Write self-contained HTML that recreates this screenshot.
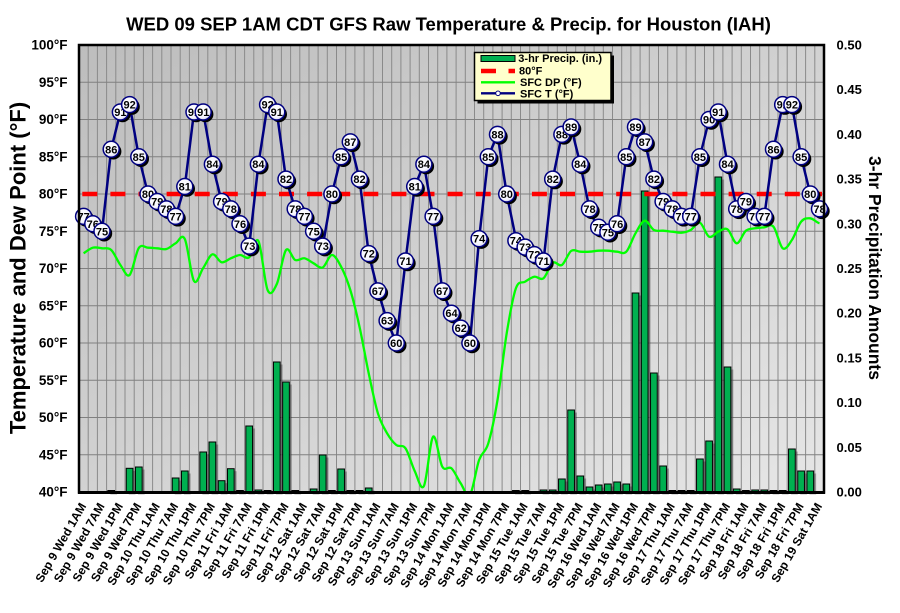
<!DOCTYPE html>
<html><head><meta charset="utf-8"><style>
html,body{margin:0;padding:0;background:#fff;}
svg{display:block;}
text{font-family:"Liberation Sans",Arial,sans-serif;}
.mt{font-weight:bold;font-size:11px;text-anchor:middle;fill:#000;}
.yl{font-weight:bold;font-size:13.5px;text-anchor:end;fill:#000;}
.yr{font-weight:bold;font-size:13px;fill:#000;}
.xl{font-weight:bold;font-size:12px;text-anchor:end;fill:#000;}
.lg{font-weight:bold;font-size:11px;fill:#000;}
</style></head><body>
<svg width="900" height="613" viewBox="0 0 900 613" xmlns="http://www.w3.org/2000/svg">
<defs>
<linearGradient id="bg" x1="0" y1="0" x2="1" y2="1">
<stop offset="0" stop-color="#bdbdbd"/><stop offset="1" stop-color="#e6e6e6"/>
</linearGradient>
<radialGradient id="mg" cx="0.4" cy="0.35" r="0.7">
<stop offset="0" stop-color="#ffffff"/><stop offset="0.7" stop-color="#f6f6ff"/><stop offset="1" stop-color="#c8c8e8"/>
</radialGradient>
<clipPath id="pc"><rect x="79" y="45" width="745" height="447.5"/></clipPath>
<g id="mk"><circle cx="2.2" cy="2.2" r="8" fill="#000"/><circle r="8" fill="url(#mg)" stroke="#000080" stroke-width="1.5"/></g>
<g id="bars">
<rect x="107.85" y="490.5" width="6.7" height="1.5"/>
<rect x="126.25" y="468.3" width="6.7" height="23.7"/>
<rect x="135.45" y="467" width="6.7" height="25"/>
<rect x="172.25" y="478" width="6.7" height="14"/>
<rect x="181.45" y="471" width="6.7" height="21"/>
<rect x="199.85" y="452" width="6.7" height="40"/>
<rect x="209.05" y="442" width="6.7" height="50"/>
<rect x="218.25" y="480.7" width="6.7" height="11.3"/>
<rect x="227.45" y="468.7" width="6.7" height="23.3"/>
<rect x="236.65" y="490.5" width="6.7" height="1.5"/>
<rect x="245.85" y="426" width="6.7" height="66"/>
<rect x="255.05" y="490" width="6.7" height="2"/>
<rect x="264.25" y="490.5" width="6.7" height="1.5"/>
<rect x="273.45" y="362" width="6.7" height="130"/>
<rect x="282.65" y="382" width="6.7" height="110"/>
<rect x="291.85" y="490.5" width="6.7" height="1.5"/>
<rect x="310.25" y="489" width="6.7" height="3"/>
<rect x="319.35" y="455" width="6.7" height="37"/>
<rect x="328.55" y="490.5" width="6.7" height="1.5"/>
<rect x="337.75" y="469" width="6.7" height="23"/>
<rect x="346.95" y="490.5" width="6.7" height="1.5"/>
<rect x="356.15" y="490.5" width="6.7" height="1.5"/>
<rect x="365.35" y="488" width="6.7" height="4"/>
<rect x="512.55" y="490.5" width="6.7" height="1.5"/>
<rect x="521.75" y="490.5" width="6.7" height="1.5"/>
<rect x="540.15" y="490" width="6.7" height="2"/>
<rect x="549.35" y="490" width="6.7" height="2"/>
<rect x="558.55" y="479" width="6.7" height="13"/>
<rect x="567.75" y="410" width="6.7" height="82"/>
<rect x="576.95" y="476" width="6.7" height="16"/>
<rect x="586.15" y="487" width="6.7" height="5"/>
<rect x="595.35" y="485" width="6.7" height="7"/>
<rect x="604.55" y="484" width="6.7" height="8"/>
<rect x="613.75" y="482" width="6.7" height="10"/>
<rect x="622.95" y="484" width="6.7" height="8"/>
<rect x="632.15" y="293" width="6.7" height="199"/>
<rect x="641.35" y="191" width="6.7" height="301"/>
<rect x="650.55" y="373" width="6.7" height="119"/>
<rect x="659.75" y="466" width="6.7" height="26"/>
<rect x="668.95" y="490.5" width="6.7" height="1.5"/>
<rect x="678.15" y="490.5" width="6.7" height="1.5"/>
<rect x="687.35" y="490.5" width="6.7" height="1.5"/>
<rect x="696.55" y="459" width="6.7" height="33"/>
<rect x="705.75" y="441" width="6.7" height="51"/>
<rect x="714.95" y="177" width="6.7" height="315"/>
<rect x="724.15" y="367" width="6.7" height="125"/>
<rect x="733.35" y="489" width="6.7" height="3"/>
<rect x="742.55" y="490.5" width="6.7" height="1.5"/>
<rect x="751.75" y="490" width="6.7" height="2"/>
<rect x="760.95" y="490" width="6.7" height="2"/>
<rect x="770.15" y="490.5" width="6.7" height="1.5"/>
<rect x="779.35" y="490.5" width="6.7" height="1.5"/>
<rect x="788.55" y="449" width="6.7" height="43"/>
<rect x="797.75" y="471" width="6.7" height="21"/>
<rect x="806.95" y="471" width="6.7" height="21"/>
</g>
</defs>

<!-- title -->
<text x="448.5" y="30.5" text-anchor="middle" font-size="18.5" font-weight="bold" fill="#000">WED 09 SEP 1AM CDT GFS Raw Temperature &amp; Precip. for Houston (IAH)</text>

<!-- plot background -->
<rect x="79" y="45" width="745" height="447.5" fill="url(#bg)"/>

<!-- vertical gridlines -->
<path stroke="#8a8a8a" stroke-width="1" fill="none" d="M88.2 45V492M97.4 45V492M106.6 45V492M115.8 45V492M125 45V492M134.2 45V492M143.4 45V492M152.6 45V492M161.8 45V492M171 45V492M180.2 45V492M189.4 45V492M198.6 45V492M207.8 45V492M217 45V492M226.2 45V492M235.4 45V492M244.6 45V492M253.8 45V492M263 45V492M272.2 45V492M281.4 45V492M290.6 45V492M299.8 45V492M309 45V492M318.1 45V492M327.3 45V492M336.5 45V492M345.7 45V492M354.9 45V492M364.1 45V492M373.3 45V492M382.5 45V492M391.7 45V492M400.9 45V492M410.1 45V492M419.3 45V492M428.5 45V492M437.7 45V492M446.9 45V492M456.1 45V492M465.3 45V492M474.5 45V492M483.7 45V492M492.9 45V492M502.1 45V492M511.3 45V492M520.5 45V492M529.7 45V492M538.9 45V492M548.1 45V492M557.3 45V492M566.5 45V492M575.7 45V492M584.9 45V492M594.1 45V492M603.3 45V492M612.5 45V492M621.7 45V492M630.9 45V492M640.1 45V492M649.3 45V492M658.5 45V492M667.7 45V492M676.9 45V492M686.1 45V492M695.3 45V492M704.5 45V492M713.7 45V492M722.9 45V492M732.1 45V492M741.3 45V492M750.5 45V492M759.7 45V492M768.8 45V492M778 45V492M787.2 45V492M796.4 45V492M805.6 45V492M814.8 45V492"/>
<!-- horizontal gridlines -->
<path stroke="#808080" stroke-width="1" fill="none" d="M79 454.75H824M79 417.5H824M79 380.25H824M79 343H824M79 305.75H824M79 268.5H824M79 231.25H824M79 194H824M79 156.75H824M79 119.5H824M79 82.25H824"/>

<!-- bars -->
<use href="#bars" transform="translate(2.5,2.5)" fill="#000" opacity="0.28" clip-path="url(#pc)"/>
<use href="#bars" fill="#00b050" stroke="#000" stroke-width="1"/>

<!-- 80F dashed line -->
<line x1="82.3" y1="194" x2="822" y2="194" stroke="#ff0000" stroke-width="4.5" stroke-dasharray="15 13.1"/>

<!-- dew point -->
<path clip-path="url(#pc)" fill="none" stroke="#00ff00" stroke-width="2.3" stroke-linejoin="round" d="M83.6,253.3 C85.13,252.37 89.73,248.53 92.8,247.7 S98.93,247.92 102,248.3 S108.13,247.22 111.2,250 S117.33,260.83 120.4,265 S126.53,277.83 129.6,275 S135.73,252.55 138.8,248 S144.93,247.65 148,247.7 S154.13,248.08 157.2,248.3 S163.33,249.83 166.4,249 S172.53,244.97 175.6,243.3 S181.73,232.72 184.8,239 S190.93,276.17 194,281 S200.13,272.45 203.2,268 S209.33,255.25 212.4,254.3 S218.53,261.63 221.6,262.3 S227.73,259.52 230.8,258.3 S236.93,255.17 240,255 S246.13,259.63 249.2,257.3 S255.33,235.55 258.4,241 S264.53,282.83 267.6,290 S273.73,290.67 276.8,284 S282.93,254 286,250 S292.13,258.62 295.2,260 S301.33,257.75 304.4,258.3 S310.53,261.77 313.6,263.3 S319.63,268.88 322.7,267.5 S328.83,255.13 331.9,255 S338.03,260.87 341.1,266.7 S347.23,280 350.3,290 S356.43,312.82 359.5,326.7 S365.63,358.87 368.7,373.3 S374.83,403.3 377.9,413.3 S384.03,428.02 387.1,433.3 S393.23,442.5 396.3,445 S402.43,443.97 405.5,448.3 S411.63,464.72 414.7,471 S420.83,491.72 423.9,486 S430.03,439.92 433.1,436.7 S439.23,461.43 442.3,466.7 S448.43,465.53 451.5,468.3 S457.63,478.85 460.7,483.3 S466.83,498.88 469.9,495 S476.03,468.62 479.1,460 S485.23,453.3 488.3,443.3 S494.43,418.33 497.5,400 S503.63,351.92 506.7,333.3 S512.83,296.9 515.9,288.3 S522.03,283.63 525.1,281.7 S531.23,277.27 534.3,276.7 S540.43,280.63 543.5,278.3 S549.63,264.92 552.7,262.7 S558.83,266.95 561.9,265 S568.03,253.22 571.1,251 S577.23,251.58 580.3,251.7 S586.43,251.87 589.5,251.7 S595.63,250.87 598.7,250.7 S604.83,250.53 607.9,250.7 S614.03,251.53 617.1,251.7 S623.23,254.77 626.3,251.7 S632.43,238.47 635.5,233.3 S641.63,221.25 644.7,220.7 S650.83,228.33 653.9,230 S660.03,230.42 663.1,230.7 S669.23,231.37 672.3,231.7 S678.43,232.98 681.5,232.7 S687.63,231.67 690.7,230 S696.83,221.58 699.9,222.7 S706.03,235.2 709.1,236.7 S715.23,232.93 718.3,231.7 S724.43,227.37 727.5,229.3 S733.63,243.07 736.7,243.3 S742.83,233.2 745.9,230.7 S752.03,228.87 755.1,228.3 S761.23,227.57 764.3,227.3 S770.43,223.2 773.5,226.7 S779.63,246.08 782.7,248.3 S788.83,244.43 791.9,240 S798.03,225.32 801.1,221.7 S807.23,218.03 810.3,218.3 S816.43,222.47 819.5,223.3"/>

<!-- temperature line -->
<polyline fill="none" stroke="#000080" stroke-width="2.5" stroke-linejoin="round" points="83.6,216.35 92.8,223.8 102,231.25 111.2,149.3 120.4,112.05 129.6,104.6 138.8,156.75 148,194 157.2,201.45 166.4,208.9 175.6,216.35 184.8,186.55 194,112.05 203.2,112.05 212.4,164.2 221.6,201.45 230.8,208.9 240,223.8 249.2,246.15 258.4,164.2 267.6,104.6 276.8,112.05 286,179.1 295.2,208.9 304.4,216.35 313.6,231.25 322.7,246.15 331.9,194 341.1,156.75 350.3,141.85 359.5,179.1 368.7,253.6 377.9,290.85 387.1,320.65 396.3,343 405.5,261.05 414.7,186.55 423.9,164.2 433.1,216.35 442.3,290.85 451.5,313.2 460.7,328.1 469.9,343 479.1,238.7 488.3,156.75 497.5,134.4 506.7,194 515.9,238.7 525.1,246.15 534.3,253.6 543.5,261.05 552.7,179.1 561.9,134.4 571.1,126.95 580.3,164.2 589.5,208.9 598.7,231.25 607.9,231.25 617.1,223.8 626.3,156.75 635.5,126.95 644.7,141.85 653.9,179.1 663.1,201.45 672.3,208.9 681.5,216.35 690.7,216.35 699.9,156.75 709.1,119.5 718.3,112.05 727.5,164.2 736.7,208.9 745.9,201.45 755.1,216.35 764.3,216.35 773.5,149.3 782.7,104.6 791.9,104.6 801.1,156.75 810.3,194 819.5,208.9"/>

<!-- markers -->
<g transform="translate(83.6,216.35)"><use href="#mk"/><text class="mt" y="4">77</text></g>
<g transform="translate(92.8,223.8)"><use href="#mk"/><text class="mt" y="4">76</text></g>
<g transform="translate(102,231.25)"><use href="#mk"/><text class="mt" y="4">75</text></g>
<g transform="translate(111.2,149.3)"><use href="#mk"/><text class="mt" y="4">86</text></g>
<g transform="translate(120.4,112.05)"><use href="#mk"/><text class="mt" y="4">91</text></g>
<g transform="translate(129.6,104.6)"><use href="#mk"/><text class="mt" y="4">92</text></g>
<g transform="translate(138.8,156.75)"><use href="#mk"/><text class="mt" y="4">85</text></g>
<g transform="translate(148,194)"><use href="#mk"/><text class="mt" y="4">80</text></g>
<g transform="translate(157.2,201.45)"><use href="#mk"/><text class="mt" y="4">79</text></g>
<g transform="translate(166.4,208.9)"><use href="#mk"/><text class="mt" y="4">78</text></g>
<g transform="translate(175.6,216.35)"><use href="#mk"/><text class="mt" y="4">77</text></g>
<g transform="translate(184.8,186.55)"><use href="#mk"/><text class="mt" y="4">81</text></g>
<g transform="translate(194,112.05)"><use href="#mk"/><text class="mt" y="4">91</text></g>
<g transform="translate(203.2,112.05)"><use href="#mk"/><text class="mt" y="4">91</text></g>
<g transform="translate(212.4,164.2)"><use href="#mk"/><text class="mt" y="4">84</text></g>
<g transform="translate(221.6,201.45)"><use href="#mk"/><text class="mt" y="4">79</text></g>
<g transform="translate(230.8,208.9)"><use href="#mk"/><text class="mt" y="4">78</text></g>
<g transform="translate(240,223.8)"><use href="#mk"/><text class="mt" y="4">76</text></g>
<g transform="translate(249.2,246.15)"><use href="#mk"/><text class="mt" y="4">73</text></g>
<g transform="translate(258.4,164.2)"><use href="#mk"/><text class="mt" y="4">84</text></g>
<g transform="translate(267.6,104.6)"><use href="#mk"/><text class="mt" y="4">92</text></g>
<g transform="translate(276.8,112.05)"><use href="#mk"/><text class="mt" y="4">91</text></g>
<g transform="translate(286,179.1)"><use href="#mk"/><text class="mt" y="4">82</text></g>
<g transform="translate(295.2,208.9)"><use href="#mk"/><text class="mt" y="4">78</text></g>
<g transform="translate(304.4,216.35)"><use href="#mk"/><text class="mt" y="4">77</text></g>
<g transform="translate(313.6,231.25)"><use href="#mk"/><text class="mt" y="4">75</text></g>
<g transform="translate(322.7,246.15)"><use href="#mk"/><text class="mt" y="4">73</text></g>
<g transform="translate(331.9,194)"><use href="#mk"/><text class="mt" y="4">80</text></g>
<g transform="translate(341.1,156.75)"><use href="#mk"/><text class="mt" y="4">85</text></g>
<g transform="translate(350.3,141.85)"><use href="#mk"/><text class="mt" y="4">87</text></g>
<g transform="translate(359.5,179.1)"><use href="#mk"/><text class="mt" y="4">82</text></g>
<g transform="translate(368.7,253.6)"><use href="#mk"/><text class="mt" y="4">72</text></g>
<g transform="translate(377.9,290.85)"><use href="#mk"/><text class="mt" y="4">67</text></g>
<g transform="translate(387.1,320.65)"><use href="#mk"/><text class="mt" y="4">63</text></g>
<g transform="translate(396.3,343)"><use href="#mk"/><text class="mt" y="4">60</text></g>
<g transform="translate(405.5,261.05)"><use href="#mk"/><text class="mt" y="4">71</text></g>
<g transform="translate(414.7,186.55)"><use href="#mk"/><text class="mt" y="4">81</text></g>
<g transform="translate(423.9,164.2)"><use href="#mk"/><text class="mt" y="4">84</text></g>
<g transform="translate(433.1,216.35)"><use href="#mk"/><text class="mt" y="4">77</text></g>
<g transform="translate(442.3,290.85)"><use href="#mk"/><text class="mt" y="4">67</text></g>
<g transform="translate(451.5,313.2)"><use href="#mk"/><text class="mt" y="4">64</text></g>
<g transform="translate(460.7,328.1)"><use href="#mk"/><text class="mt" y="4">62</text></g>
<g transform="translate(469.9,343)"><use href="#mk"/><text class="mt" y="4">60</text></g>
<g transform="translate(479.1,238.7)"><use href="#mk"/><text class="mt" y="4">74</text></g>
<g transform="translate(488.3,156.75)"><use href="#mk"/><text class="mt" y="4">85</text></g>
<g transform="translate(497.5,134.4)"><use href="#mk"/><text class="mt" y="4">88</text></g>
<g transform="translate(506.7,194)"><use href="#mk"/><text class="mt" y="4">80</text></g>
<g transform="translate(515.9,240.7)"><use href="#mk"/><text class="mt" y="4">74</text></g>
<g transform="translate(525.1,247.15)"><use href="#mk"/><text class="mt" y="4">73</text></g>
<g transform="translate(534.3,254.6)"><use href="#mk"/><text class="mt" y="4">72</text></g>
<g transform="translate(543.5,261.05)"><use href="#mk"/><text class="mt" y="4">71</text></g>
<g transform="translate(552.7,179.1)"><use href="#mk"/><text class="mt" y="4">82</text></g>
<g transform="translate(561.9,134.4)"><use href="#mk"/><text class="mt" y="4">88</text></g>
<g transform="translate(571.1,126.95)"><use href="#mk"/><text class="mt" y="4">89</text></g>
<g transform="translate(580.3,164.2)"><use href="#mk"/><text class="mt" y="4">84</text></g>
<g transform="translate(589.5,208.9)"><use href="#mk"/><text class="mt" y="4">78</text></g>
<g transform="translate(598.7,227.25)"><use href="#mk"/><text class="mt" y="4">75</text></g>
<g transform="translate(607.9,232.25)"><use href="#mk"/><text class="mt" y="4">75</text></g>
<g transform="translate(617.1,223.8)"><use href="#mk"/><text class="mt" y="4">76</text></g>
<g transform="translate(626.3,156.75)"><use href="#mk"/><text class="mt" y="4">85</text></g>
<g transform="translate(635.5,126.95)"><use href="#mk"/><text class="mt" y="4">89</text></g>
<g transform="translate(644.7,141.85)"><use href="#mk"/><text class="mt" y="4">87</text></g>
<g transform="translate(653.9,179.1)"><use href="#mk"/><text class="mt" y="4">82</text></g>
<g transform="translate(663.1,201.45)"><use href="#mk"/><text class="mt" y="4">79</text></g>
<g transform="translate(672.3,208.9)"><use href="#mk"/><text class="mt" y="4">78</text></g>
<g transform="translate(681.5,216.35)"><use href="#mk"/><text class="mt" y="4">77</text></g>
<g transform="translate(690.7,216.35)"><use href="#mk"/><text class="mt" y="4">77</text></g>
<g transform="translate(699.9,156.75)"><use href="#mk"/><text class="mt" y="4">85</text></g>
<g transform="translate(709.1,119.5)"><use href="#mk"/><text class="mt" y="4">90</text></g>
<g transform="translate(718.3,112.05)"><use href="#mk"/><text class="mt" y="4">91</text></g>
<g transform="translate(727.5,164.2)"><use href="#mk"/><text class="mt" y="4">84</text></g>
<g transform="translate(736.7,208.9)"><use href="#mk"/><text class="mt" y="4">78</text></g>
<g transform="translate(745.9,201.45)"><use href="#mk"/><text class="mt" y="4">79</text></g>
<g transform="translate(755.1,216.35)"><use href="#mk"/><text class="mt" y="4">77</text></g>
<g transform="translate(764.3,216.35)"><use href="#mk"/><text class="mt" y="4">77</text></g>
<g transform="translate(773.5,149.3)"><use href="#mk"/><text class="mt" y="4">86</text></g>
<g transform="translate(782.7,104.6)"><use href="#mk"/><text class="mt" y="4">92</text></g>
<g transform="translate(791.9,104.6)"><use href="#mk"/><text class="mt" y="4">92</text></g>
<g transform="translate(801.1,156.75)"><use href="#mk"/><text class="mt" y="4">85</text></g>
<g transform="translate(810.3,194)"><use href="#mk"/><text class="mt" y="4">80</text></g>
<g transform="translate(819.5,208.9)"><use href="#mk"/><text class="mt" y="4">78</text></g>

<!-- plot frame -->
<rect x="79" y="45" width="745" height="447.5" fill="none" stroke="#000" stroke-width="2.5"/>
<line x1="78" y1="492.5" x2="825" y2="492.5" stroke="#000" stroke-width="3"/>

<!-- legend -->
<rect x="477.5" y="55.5" width="136.5" height="48" fill="#000"/>
<rect x="474.5" y="52.5" width="136.5" height="48" fill="#ffffcc" stroke="#000" stroke-width="1.5"/>
<rect x="481" y="55.5" width="34" height="6" fill="#00b050" stroke="#000" stroke-width="1"/>
<text class="lg" x="518.3" y="62">3-hr Precip. (in.)</text>
<line x1="481" y1="71" x2="515" y2="71" stroke="#ff0000" stroke-width="4.5" stroke-dasharray="15 12.5"/>
<text class="lg" x="519" y="74.5">80°F</text>
<line x1="481" y1="82.3" x2="515" y2="82.3" stroke="#00ff00" stroke-width="2.3"/>
<text class="lg" x="520" y="86">SFC DP (°F)</text>
<line x1="481" y1="93.3" x2="515" y2="93.3" stroke="#000080" stroke-width="2.3"/>
<circle cx="498" cy="93.3" r="2.3" fill="#fff" stroke="#000080" stroke-width="1"/>
<text class="lg" x="520" y="97.5">SFC T (°F)</text>

<!-- left axis labels -->
<text class="yl" x="67.5" y="49.5">100°F</text>
<text class="yl" x="67.5" y="86.75">95°F</text>
<text class="yl" x="67.5" y="124">90°F</text>
<text class="yl" x="67.5" y="161.25">85°F</text>
<text class="yl" x="67.5" y="198.5">80°F</text>
<text class="yl" x="67.5" y="235.75">75°F</text>
<text class="yl" x="67.5" y="273">70°F</text>
<text class="yl" x="67.5" y="310.25">65°F</text>
<text class="yl" x="67.5" y="347.5">60°F</text>
<text class="yl" x="67.5" y="384.75">55°F</text>
<text class="yl" x="67.5" y="422">50°F</text>
<text class="yl" x="67.5" y="459.25">45°F</text>
<text class="yl" x="67.5" y="496.5">40°F</text>

<!-- right axis labels -->
<text class="yr" x="836.5" y="49.5">0.50</text>
<text class="yr" x="836.5" y="94.2">0.45</text>
<text class="yr" x="836.5" y="138.9">0.40</text>
<text class="yr" x="836.5" y="183.6">0.35</text>
<text class="yr" x="836.5" y="228.3">0.30</text>
<text class="yr" x="836.5" y="273">0.25</text>
<text class="yr" x="836.5" y="317.7">0.20</text>
<text class="yr" x="836.5" y="362.4">0.15</text>
<text class="yr" x="836.5" y="407.1">0.10</text>
<text class="yr" x="836.5" y="451.8">0.05</text>
<text class="yr" x="836.5" y="496.5">0.00</text>

<!-- axis titles -->
<text transform="translate(25.5,268) rotate(-90)" text-anchor="middle" font-size="22" font-weight="bold" fill="#000">Temperature and Dew Point (°F)</text>
<text transform="translate(869,268) rotate(90)" text-anchor="middle" font-size="17.5" font-weight="bold" fill="#000">3-hr Precipitation Amounts</text>

<!-- x labels -->
<text class="xl" transform="translate(86.6,506) rotate(-60)">Sep 9 Wed 1AM</text>
<text class="xl" transform="translate(105,506) rotate(-60)">Sep 9 Wed 7AM</text>
<text class="xl" transform="translate(123.4,506) rotate(-60)">Sep 9 Wed 1PM</text>
<text class="xl" transform="translate(141.8,506) rotate(-60)">Sep 9 Wed 7PM</text>
<text class="xl" transform="translate(160.2,506) rotate(-60)">Sep 10 Thu 1AM</text>
<text class="xl" transform="translate(178.6,506) rotate(-60)">Sep 10 Thu 7AM</text>
<text class="xl" transform="translate(197,506) rotate(-60)">Sep 10 Thu 1PM</text>
<text class="xl" transform="translate(215.4,506) rotate(-60)">Sep 10 Thu 7PM</text>
<text class="xl" transform="translate(233.8,506) rotate(-60)">Sep 11 Fri 1AM</text>
<text class="xl" transform="translate(252.2,506) rotate(-60)">Sep 11 Fri 7AM</text>
<text class="xl" transform="translate(270.6,506) rotate(-60)">Sep 11 Fri 1PM</text>
<text class="xl" transform="translate(289,506) rotate(-60)">Sep 11 Fri 7PM</text>
<text class="xl" transform="translate(307.4,506) rotate(-60)">Sep 12 Sat 1AM</text>
<text class="xl" transform="translate(325.7,506) rotate(-60)">Sep 12 Sat 7AM</text>
<text class="xl" transform="translate(344.1,506) rotate(-60)">Sep 12 Sat 1PM</text>
<text class="xl" transform="translate(362.5,506) rotate(-60)">Sep 12 Sat 7PM</text>
<text class="xl" transform="translate(380.9,506) rotate(-60)">Sep 13 Sun 1AM</text>
<text class="xl" transform="translate(399.3,506) rotate(-60)">Sep 13 Sun 7AM</text>
<text class="xl" transform="translate(417.7,506) rotate(-60)">Sep 13 Sun 1PM</text>
<text class="xl" transform="translate(436.1,506) rotate(-60)">Sep 13 Sun 7PM</text>
<text class="xl" transform="translate(454.5,506) rotate(-60)">Sep 14 Mon 1AM</text>
<text class="xl" transform="translate(472.9,506) rotate(-60)">Sep 14 Mon 7AM</text>
<text class="xl" transform="translate(491.3,506) rotate(-60)">Sep 14 Mon 1PM</text>
<text class="xl" transform="translate(509.7,506) rotate(-60)">Sep 14 Mon 7PM</text>
<text class="xl" transform="translate(528.1,506) rotate(-60)">Sep 15 Tue 1AM</text>
<text class="xl" transform="translate(546.5,506) rotate(-60)">Sep 15 Tue 7AM</text>
<text class="xl" transform="translate(564.9,506) rotate(-60)">Sep 15 Tue 1PM</text>
<text class="xl" transform="translate(583.3,506) rotate(-60)">Sep 15 Tue 7PM</text>
<text class="xl" transform="translate(601.7,506) rotate(-60)">Sep 16 Wed 1AM</text>
<text class="xl" transform="translate(620.1,506) rotate(-60)">Sep 16 Wed 7AM</text>
<text class="xl" transform="translate(638.5,506) rotate(-60)">Sep 16 Wed 1PM</text>
<text class="xl" transform="translate(656.9,506) rotate(-60)">Sep 16 Wed 7PM</text>
<text class="xl" transform="translate(675.3,506) rotate(-60)">Sep 17 Thu 1AM</text>
<text class="xl" transform="translate(693.7,506) rotate(-60)">Sep 17 Thu 7AM</text>
<text class="xl" transform="translate(712.1,506) rotate(-60)">Sep 17 Thu 1PM</text>
<text class="xl" transform="translate(730.5,506) rotate(-60)">Sep 17 Thu 7PM</text>
<text class="xl" transform="translate(748.9,506) rotate(-60)">Sep 18 Fri 1AM</text>
<text class="xl" transform="translate(767.3,506) rotate(-60)">Sep 18 Fri 7AM</text>
<text class="xl" transform="translate(785.7,506) rotate(-60)">Sep 18 Fri 1PM</text>
<text class="xl" transform="translate(804.1,506) rotate(-60)">Sep 18 Fri 7PM</text>
<text class="xl" transform="translate(822.5,506) rotate(-60)">Sep 19 Sat 1AM</text>
</svg>
</body></html>
